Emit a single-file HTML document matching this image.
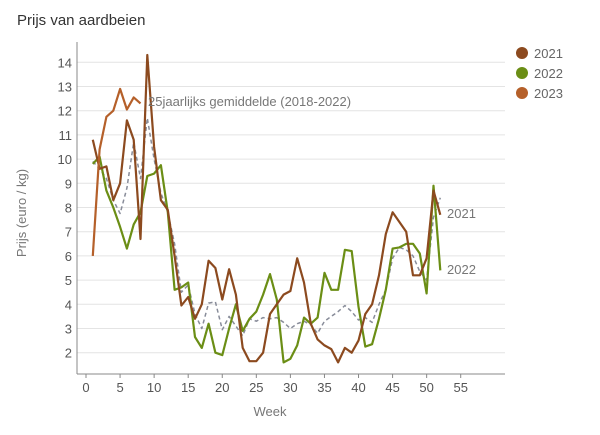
<!DOCTYPE html>
<html><head><meta charset="utf-8"><style>
html,body{margin:0;padding:0;background:#fff;}
svg{display:block;font-family:"Liberation Sans",sans-serif;}
</style></head><body>
<svg id="c" width="600" height="435" xmlns="http://www.w3.org/2000/svg">
<text x="17" y="25" font-size="15" fill="#333">Prijs van aardbeien</text>
<g id="grid"></g>
<line x1="77" y1="42" x2="77" y2="374" stroke="#888" stroke-width="1"/>
<line x1="77" y1="374" x2="505" y2="374" stroke="#888" stroke-width="1"/>
<g id="ticks" font-size="13" fill="#555"></g>
<text transform="translate(26,213) rotate(-90)" text-anchor="middle" font-size="13" fill="#777">Prijs (euro / kg)</text>
<text x="270" y="416" text-anchor="middle" font-size="13" fill="#777">Week</text>
<g id="lines" fill="none" stroke-linejoin="round"></g>
<text x="148" y="106" font-size="13" fill="#777">25jaarlijks gemiddelde (2018-2022)</text>
<text x="447" y="218" font-size="13" fill="#777">2021</text>
<text x="447" y="274" font-size="13" fill="#777">2022</text>
<circle cx="522" cy="53" r="6" fill="#8c4a1f"/><text x="534" y="58" font-size="13" fill="#666">2021</text>
<circle cx="522" cy="73" r="6" fill="#6b8e15"/><text x="534" y="78" font-size="13" fill="#666">2022</text>
<circle cx="522" cy="93" r="6" fill="#b5602a"/><text x="534" y="98" font-size="13" fill="#666">2023</text>
</svg>
<script>
var NS="http://www.w3.org/2000/svg";
function X(w){return 86+w*6.813;}
function Y(v){return 352.7-(v-2)*24.2;}
var g=document.getElementById('grid'),t=document.getElementById('ticks');
for(var v=2;v<=14;v++){var l=document.createElementNS(NS,'line');l.setAttribute('x1',77);l.setAttribute('x2',505);l.setAttribute('y1',Y(v));l.setAttribute('y2',Y(v));l.setAttribute('stroke','#e4e4e4');g.appendChild(l);
var tx=document.createElementNS(NS,'text');tx.setAttribute('x',72);tx.setAttribute('y',Y(v)+5);tx.setAttribute('text-anchor','end');tx.textContent=v;t.appendChild(tx);}
for(var w=0;w<=55;w+=5){var tx=document.createElementNS(NS,'text');tx.setAttribute('x',X(w));tx.setAttribute('y',392);tx.setAttribute('text-anchor','middle');tx.textContent=w;t.appendChild(tx);
var tk=document.createElementNS(NS,'line');tk.setAttribute('x1',X(w));tk.setAttribute('x2',X(w));tk.setAttribute('y1',374);tk.setAttribute('y2',378);tk.setAttribute('stroke','#888');g.appendChild(tk);}
var avg=[9.9,9.6,9.2,8.3,7.75,8.8,10.7,9.2,11.7,10.0,8.6,7.8,6.5,4.5,4.8,3.6,3.0,4.05,4.1,2.95,3.5,3.1,2.7,3.4,3.3,3.45,3.4,3.45,3.25,3.0,3.2,3.3,3.15,2.8,3.3,3.5,3.7,3.95,3.7,3.35,3.45,3.25,4.0,4.6,5.9,6.35,6.25,6.0,5.35,5.0,7.6,8.4];
var d21=[10.8,9.6,9.7,8.3,9.0,11.6,10.8,6.7,14.3,10.5,8.3,7.9,6.0,3.95,4.3,3.4,4.0,5.8,5.5,4.2,5.45,4.4,2.2,1.65,1.65,2.0,3.6,4.0,4.4,4.55,5.9,4.9,3.2,2.55,2.3,2.15,1.6,2.2,2.0,2.5,3.6,4.0,5.2,6.9,7.8,7.4,7.0,5.2,5.2,5.9,8.7,7.7];
var d22=[9.8,10.1,8.7,8.0,7.2,6.3,7.3,7.8,9.3,9.4,9.75,7.8,4.6,4.7,4.9,2.65,2.2,3.2,2.0,1.9,3.0,4.0,2.9,3.4,3.7,4.4,5.25,4.2,1.6,1.75,2.3,3.45,3.2,3.45,5.3,4.6,4.6,6.25,6.2,3.9,2.25,2.35,3.4,4.6,6.3,6.35,6.5,6.5,6.1,4.45,8.9,5.4];
var d23=[6.0,10.4,11.75,12.0,12.9,12.05,12.55,12.3];
var L=document.getElementById('lines');
function line(d,c,w,dash){var p=document.createElementNS(NS,'polyline');p.setAttribute('points',d.map(function(v,i){return X(i+1).toFixed(1)+','+Y(v).toFixed(1);}).join(' '));p.setAttribute('stroke',c);p.setAttribute('stroke-width',w);if(dash)p.setAttribute('stroke-dasharray',dash);L.appendChild(p);}
line(avg,'#888c99',1.5,'4,3');
line(d22,'#6b8e15',2.2);
line(d21,'#8c4a1f',2.2);
line(d23,'#b5602a',2.2);
</script>
</body></html>
